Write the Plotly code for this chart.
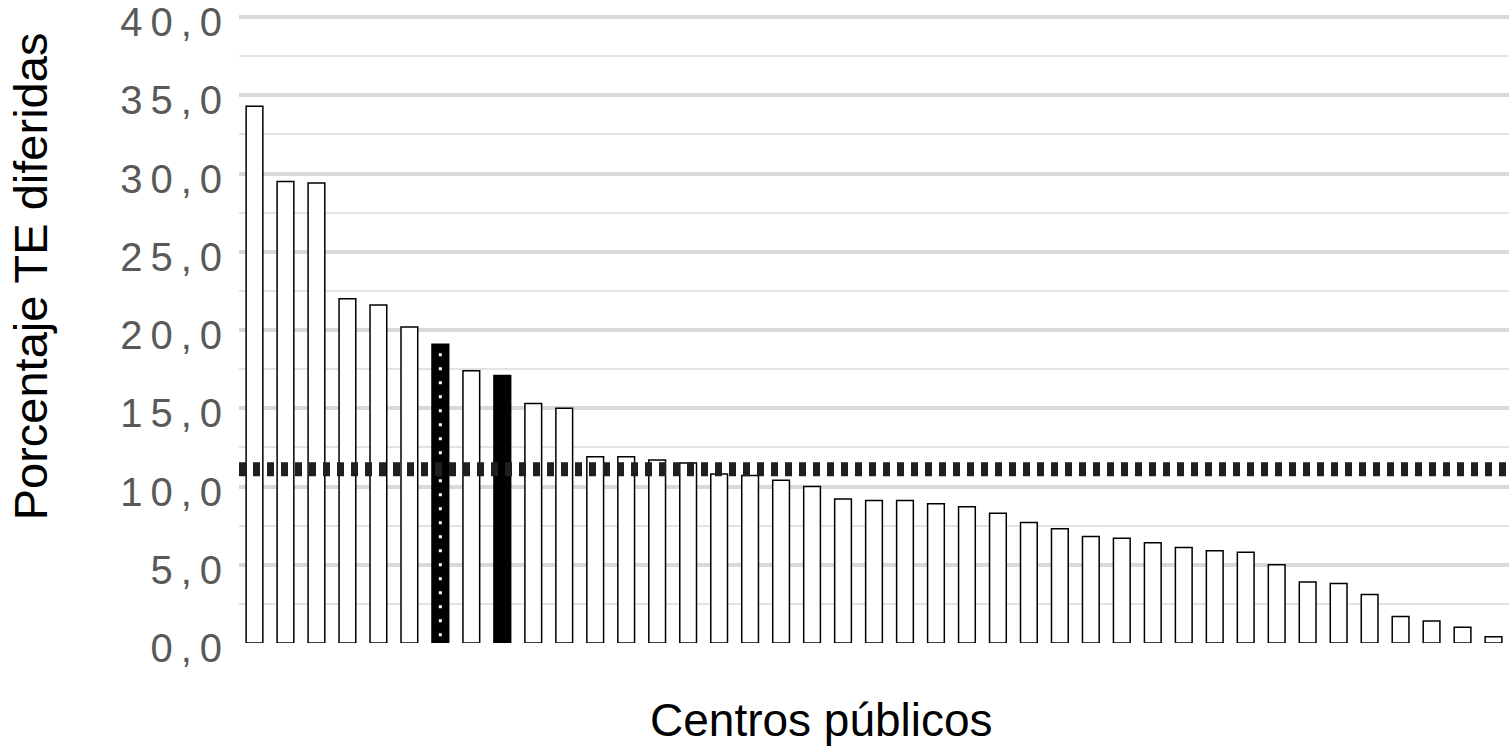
import plotly.graph_objects as go

# porcentaje de TE diferidas por centro publico (ordenado de mayor a menor)
porcentajes = [34.3, 29.5, 29.4, 22.0, 21.6, 20.2, 19.1, 17.4, 17.1, 15.3,
               15.0, 11.9, 11.9, 11.7, 11.5, 10.8, 10.7, 10.4, 10.0, 9.2,
               9.1, 9.1, 8.9, 8.7, 8.3, 7.7, 7.3, 6.8, 6.7, 6.4,
               6.1, 5.9, 5.8, 5.0, 3.9, 3.8, 3.1, 1.7, 1.4, 1.0, 0.4]
centros = list(range(1, len(porcentajes) + 1))
centro_punteado = 7   # barra negra con puntos blancos
centro_negro = 9      # barra negra
media = 11.1          # linea de referencia

tick_vals = [0, 5, 10, 15, 20, 25, 30, 35, 40]
tick_text = ["0,0", "5,0", "10,0", "15,0", "20,0", "25,0", "30,0", "35,0", "40,0"]
# espaciado entre caracteres como en el original
tick_text = ["\u2009".join(t) for t in tick_text]

colores = ["black" if c in (centro_punteado, centro_negro) else "white" for c in centros]

fig = go.Figure()

fig.add_trace(go.Bar(
    x=centros,
    y=porcentajes,
    marker=dict(color=colores, line=dict(color="black", width=1.5)),
    showlegend=False,
    hoverinfo="skip"))

# puntos blancos sobre la barra punteada
i = centros.index(centro_punteado)
fig.add_trace(go.Scatter(
    x=[centro_punteado, centro_punteado],
    y=[porcentajes[i], 0],
    mode="lines",
    line=dict(color="white", width=3, dash="0px,9px,3px,2px"),
    showlegend=False,
    hoverinfo="skip"))

fig.add_shape(type="line", xref="paper", x0=0, x1=1, yref="y", y0=media, y1=media,
              line=dict(color="#1f1f1f", width=14, dash="7px,7px"), layer="above")

fig.update_layout(
    width=1509, height=752,
    margin=dict(l=239, r=0, t=14, b=109),
    paper_bgcolor="white", plot_bgcolor="white",
    bargap=0.46,
    font=dict(family="Liberation Sans, Arial, sans-serif"),
    xaxis=dict(range=[0.5, len(centros) + 0.5], showticklabels=False,
               showgrid=False, zeroline=False, showline=False, automargin=False),
    yaxis=dict(range=[0, 40.2], tickvals=tick_vals, ticktext=tick_text,
               tickfont=dict(size=40, color="#595959"),
               ticklabelstandoff=16, ticklabelshift=5,
               automargin=False, ticklabeloverflow="allow",
               showgrid=True, gridcolor="#d9d9d9", gridwidth=4,
               minor=dict(dtick=2.5, showgrid=True, gridcolor="#e3e3e3", gridwidth=2),
               zeroline=False, showline=False),
    annotations=[
        dict(text="Porcentaje TE diferidas", textangle=-90, showarrow=False,
             xref="paper", yref="paper", x=0, y=0.583, xshift=-209,
             xanchor="center", yanchor="middle",
             font=dict(size=47, color="black")),
        dict(text="Centros públicos", showarrow=False,
             xref="paper", yref="paper", x=0.459, y=-0.123,
             xanchor="center", yanchor="middle",
             font=dict(size=46, color="black")),
    ])

# quitar el margen por defecto del body para que la figura empiece en (0, 0)
fig.write_html("out.html", config={"displayModeBar": False},
               post_script="document.body.style.margin = '0';")
